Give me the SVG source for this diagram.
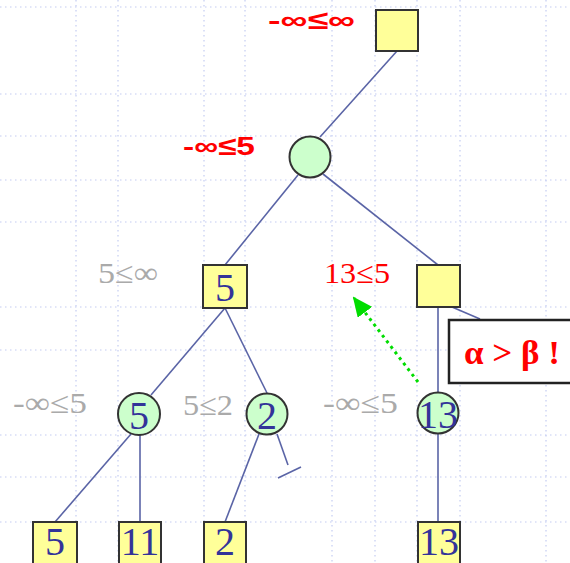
<svg xmlns="http://www.w3.org/2000/svg" width="570" height="563" viewBox="0 0 570 563">
<style>
.grid line{stroke:#c4ccf2;stroke-width:1.2;stroke-dasharray:1.5 3.5}
.sq{fill:#ffff99;stroke:#333;stroke-width:2}
.ci{fill:#ccffcc;stroke:#333;stroke-width:2}
.num{font-family:"Liberation Serif",serif;font-size:40px;fill:#333399;text-anchor:middle}
.edge line{stroke:#5a64a6;stroke-width:1.6}
.gl{font-family:"Liberation Serif",serif;font-size:30px;fill:#aaaaaa}
.rl{font-family:"Liberation Sans",sans-serif;font-weight:bold;font-size:26px;fill:#ff0000}
</style>
<defs>
<marker id="ah" viewBox="0 0 20 18" refX="18" refY="9" markerWidth="20" markerHeight="18" markerUnits="userSpaceOnUse" orient="auto">
<path d="M0,0 L20,9 L0,18 Z" fill="#00dd00"/>
</marker>
</defs>
<rect width="570" height="563" fill="#ffffff"/>
<g class="grid">
<line x1="0" y1="7" x2="570" y2="7"/>
<line x1="0" y1="94" x2="570" y2="94"/>
<line x1="0" y1="136" x2="570" y2="136"/>
<line x1="0" y1="180" x2="570" y2="180"/>
<line x1="0" y1="222" x2="570" y2="222"/>
<line x1="0" y1="307" x2="570" y2="307"/>
<line x1="0" y1="350" x2="570" y2="350"/>
<line x1="0" y1="435" x2="570" y2="435"/>
<line x1="0" y1="477" x2="570" y2="477"/>
<line x1="0" y1="522" x2="570" y2="522"/>
<line x1="76" y1="0" x2="76" y2="563"/>
<line x1="118" y1="0" x2="118" y2="563"/>
<line x1="204" y1="0" x2="204" y2="563"/>
<line x1="245" y1="0" x2="245" y2="563"/>
<line x1="332" y1="0" x2="332" y2="563"/>
<line x1="375" y1="0" x2="375" y2="563"/>
<line x1="417" y1="0" x2="417" y2="563"/>
<line x1="460" y1="0" x2="460" y2="563"/>
<line x1="546" y1="0" x2="546" y2="563"/>
</g>
<g id="connectors" class="edge">
<line x1="397" y1="51" x2="320" y2="137"/>
<line x1="298" y1="175" x2="225" y2="265"/>
<line x1="323" y1="174" x2="438" y2="265"/>
<line x1="225" y1="308" x2="151" y2="395"/>
<line x1="225" y1="308" x2="267" y2="393"/>
<line x1="131" y1="434" x2="55" y2="522"/>
<line x1="140" y1="435" x2="140" y2="522"/>
<line x1="259" y1="434" x2="225" y2="522"/>
<line x1="277" y1="434" x2="288" y2="465"/>
<line x1="278" y1="478" x2="301" y2="467"/>
<line x1="438" y1="307" x2="438" y2="393"/>
<line x1="438" y1="434" x2="438" y2="522"/>
<line x1="452" y1="307" x2="480" y2="319"/>
<line x1="418" y1="382" x2="354" y2="298" style="stroke:#00dd00;stroke-width:3;stroke-dasharray:3 4" marker-end="url(#ah)"/>
</g>
<g id="n-root"><rect class="sq" x="376" y="10" width="42" height="41"/></g>
<g id="n-min1"><circle class="ci" cx="310" cy="157" r="20.5"/></g>
<g id="n-max5"><rect class="sq" x="203" y="265" width="44" height="43"/><text class="num" x="225" y="301">5</text></g>
<g id="n-maxR"><rect class="sq" x="417" y="265" width="43" height="42"/></g>
<g id="n-min5"><circle class="ci" cx="139" cy="414" r="21"/><text class="num" x="139" y="429">5</text></g>
<g id="n-min2"><circle class="ci" cx="267" cy="414" r="20.5"/><text class="num" x="267" y="429">2</text></g>
<g id="n-min13"><circle class="ci" cx="438" cy="413" r="20.5"/><text class="num" x="438" y="428">13</text></g>
<g id="n-leaf5"><rect class="sq" x="33" y="522" width="44" height="45"/><text class="num" x="55" y="555">5</text></g>
<g id="n-leaf11"><rect class="sq" x="119" y="522" width="42" height="45"/><text class="num" x="140" y="555">11</text></g>
<g id="n-leaf2"><rect class="sq" x="204" y="522" width="42" height="45"/><text class="num" x="225" y="555">2</text></g>
<g id="n-leaf13"><rect class="sq" x="418" y="522" width="42" height="45"/><text class="num" x="439" y="555">13</text></g>
<g id="callout">
<rect x="449" y="320" width="126" height="63" fill="#ffffff" stroke="#222" stroke-width="2.5"/>
<text x="464" y="364" textLength="96" lengthAdjust="spacingAndGlyphs" style="font-family:'Liberation Serif',serif;font-weight:bold;font-size:34px;fill:#ff0000">α &gt; β !</text>
</g>
<g id="labels">
<text class="rl" x="268" y="29" textLength="87" lengthAdjust="spacingAndGlyphs">-∞≤∞</text>
<text class="rl" x="183" y="155" textLength="72" lengthAdjust="spacingAndGlyphs">-∞≤5</text>
<text class="gl" x="98" y="283" textLength="60" lengthAdjust="spacingAndGlyphs">5≤∞</text>
<text x="324" y="283" textLength="66" lengthAdjust="spacingAndGlyphs" style="font-family:'Liberation Serif',serif;font-size:30px;fill:#ff0000">13≤5</text>
<text class="gl" x="13" y="413" textLength="74" lengthAdjust="spacingAndGlyphs">-∞≤5</text>
<text class="gl" x="183" y="415" textLength="50" lengthAdjust="spacingAndGlyphs">5≤2</text>
<text class="gl" x="323" y="413" textLength="75" lengthAdjust="spacingAndGlyphs">-∞≤5</text>
</g>
</svg>
